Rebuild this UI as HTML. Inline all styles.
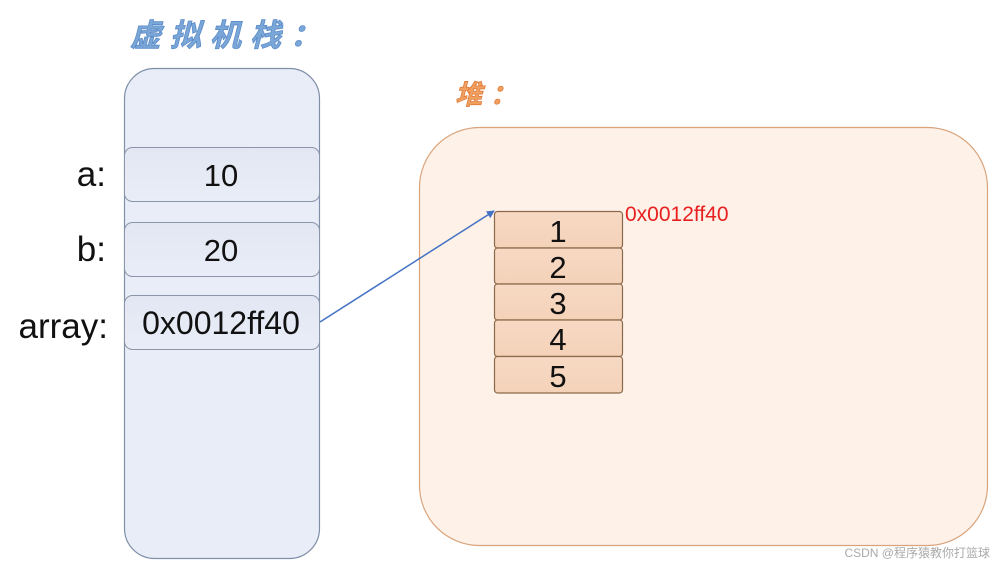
<!DOCTYPE html>
<html><head><meta charset="utf-8"><style>
html,body{margin:0;padding:0;background:#fff;width:1000px;height:565px;overflow:hidden}
svg{display:block}
text{font-family:"Liberation Sans","Noto Sans CJK SC",sans-serif}
</style></head><body>
<svg width="1000" height="565" viewBox="0 0 1000 565">
<defs>
<linearGradient id="cell" x1="0" y1="0" x2="0" y2="1"><stop offset="0" stop-color="#e2e7f3"/><stop offset="1" stop-color="#e9edf7"/></linearGradient>
<linearGradient id="hc" x1="0" y1="0" x2="0" y2="1"><stop offset="0" stop-color="#f7d9c4"/><stop offset="1" stop-color="#f4d2b8"/></linearGradient>
<marker id="ar" markerWidth="8" markerHeight="8" refX="7" refY="4" orient="auto" markerUnits="userSpaceOnUse"><path d="M0,0 L8,4 L0,8 z" fill="#4472c4"/></marker>
</defs>
<text x="130" y="46" font-size="31" font-weight="bold" fill="#7aa6d8" stroke="#5b8cc8" stroke-width="0.8" font-style="italic" letter-spacing="9" font-family="'Noto Serif CJK SC','Noto Sans CJK SC',serif">虚拟机栈：</text>
<text x="455" y="104" font-size="27" font-weight="bold" fill="#f0a060" stroke="#e07b39" stroke-width="0.8" font-style="italic" letter-spacing="8" font-family="'Noto Serif CJK SC','Noto Sans CJK SC',serif">堆：</text>
<rect x="124.5" y="68.5" width="195" height="490" rx="30" fill="#e8edf8" stroke="#7f8fa8" stroke-width="1.2"/>
<rect x="124.5" y="147.5" width="195" height="54" rx="8" fill="url(#cell)" stroke="#8a95a8"/>
<rect x="124.5" y="222.5" width="195" height="54" rx="8" fill="url(#cell)" stroke="#8a95a8"/>
<rect x="124.5" y="295.5" width="195" height="54" rx="8" fill="url(#cell)" stroke="#8a95a8"/>
<g font-size="31" fill="#111">
<text x="221" y="186" text-anchor="middle">10</text>
<text x="221" y="261" text-anchor="middle">20</text>
<text x="221" y="334" text-anchor="middle" font-size="32">0x0012ff40</text>
<text x="106" y="186" text-anchor="end" font-size="35">a:</text>
<text x="106" y="261" text-anchor="end" font-size="35">b:</text>
<text x="108" y="338" text-anchor="end" font-size="35">array:</text>
</g>
<rect x="419.5" y="127.5" width="568" height="418" rx="60" fill="#fdf1e8" stroke="#d9a47c" stroke-width="1.2"/>
<g stroke="#8a6a4a" stroke-width="1.2" fill="url(#hc)">
<rect x="494.5" y="211.5" width="128" height="36.5" rx="3"/>
<rect x="494.5" y="248" width="128" height="36" rx="3"/>
<rect x="494.5" y="284" width="128" height="36" rx="3"/>
<rect x="494.5" y="320" width="128" height="36.5" rx="3"/>
<rect x="494.5" y="356.5" width="128" height="36.5" rx="3"/>
</g>
<g font-size="31" fill="#111" text-anchor="middle">
<text x="558" y="242">1</text>
<text x="558" y="278">2</text>
<text x="558" y="314">3</text>
<text x="558" y="350">4</text>
<text x="558" y="387">5</text>
</g>
<text x="625" y="221" font-size="21" fill="#e82020">0x0012ff40</text>
<line x1="320" y1="322" x2="494" y2="211" stroke="#4472c4" stroke-width="1.5" marker-end="url(#ar)"/>
<text x="990" y="557" text-anchor="end" font-size="12" fill="#aaa">CSDN @程序猿教你打篮球</text>
</svg>
</body></html>
